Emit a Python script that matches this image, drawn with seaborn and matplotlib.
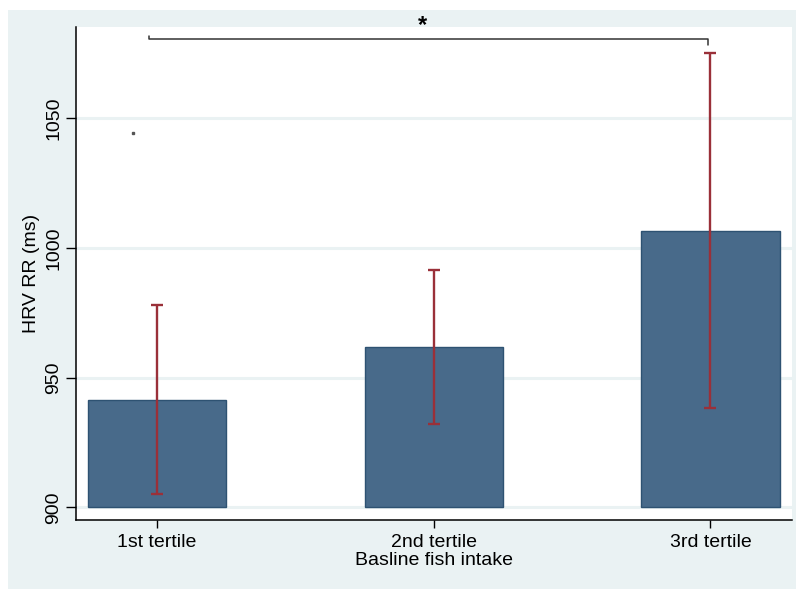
import numpy as np
import pandas as pd
import matplotlib
matplotlib.use("Agg")
import matplotlib.pyplot as plt
import seaborn as sns
from matplotlib.patches import Rectangle

# данные
groups = ["1st tertile", "2nd tertile", "3rd tertile"]
means = [941.5, 961.8, 1006.5]
ci_low = [905.1, 932.3, 938.4]
ci_high = [977.9, 991.4, 1075.3]
y_ticks = [900, 950, 1000, 1050]
stray_point = (-0.088, 1044.2)
bracket = (-0.03, 1.99, 1080.6)
star_x = 0.958
base = 900

sns.set_theme(style="white")
plt.rcParams["font.family"] = ["Liberation Sans", "DejaVu Sans"]
plt.rcParams["text.color"] = "black"
plt.rcParams["axes.labelcolor"] = "black"
plt.rcParams["xtick.color"] = "black"
plt.rcParams["ytick.color"] = "black"

bg = "#eaf2f3"
fig = plt.figure(figsize=(7.96, 5.89), dpi=100, facecolor="white")
fig.patches.append(Rectangle((8 / 796, 0), 1, 1 - 10 / 589, transform=fig.transFigure,
                             facecolor=bg, edgecolor="none", zorder=-5))
ax = fig.add_axes([76 / 796, 1 - 520 / 589, (792 - 76) / 796, (520 - 27) / 589])
ax.set_facecolor("white")

df = pd.DataFrame({"group": groups, "mean": means})
sns.barplot(data=df, x="group", y="mean", color="#486a8a", saturation=1,
            width=0.5, edgecolor="#2e5272", linewidth=1.0, errorbar=None, ax=ax, zorder=3)

# столбцы начинаются с 900
for p in ax.patches:
    h = p.get_height()
    p.set_y(base)
    p.set_height(h - base)

x = np.arange(len(groups))
m = np.array(means)
lo = m - np.array(ci_low)
hi = np.array(ci_high) - m
ax.errorbar(x, m, yerr=[lo, hi], fmt="none", ecolor="#9a3039", elinewidth=1.7,
            capsize=4, capthick=1.7, zorder=4)

# лишняя точка
ax.plot([stray_point[0]], [stray_point[1]], marker="s", markersize=1.5,
        color="#555555", linestyle="none", zorder=4)

# скобка значимости
x0, x1, yb = bracket
ax.plot([x0, x0, x1, x1], [yb + 1.3, yb, yb, yb - 2.3], color="#333333", lw=1.1,
        clip_on=False, zorder=5)
ax.text(star_x, yb + 0.8, "*", ha="center", va="bottom", fontsize=17,
        fontweight="bold", clip_on=False)

ax.set_xlim(-0.293, 2.295)
ax.set_ylim(895.1, 1085.2)
ax.set_yticks(y_ticks)
ax.set_yticklabels([str(t) for t in y_ticks], rotation=90, va="center", fontsize=14)
ax.tick_params(axis="x", labelsize=14, length=6, width=1, color="black", direction="out",
               bottom=True, pad=4)
ax.tick_params(axis="y", length=7, width=1, color="black", direction="out", left=True, pad=3)
ax.yaxis.grid(True, color=bg, linewidth=2.2)
ax.set_axisbelow(True)

for s in ["top", "right"]:
    ax.spines[s].set_visible(False)
for s in ["left", "bottom"]:
    ax.spines[s].set_color("black")
    ax.spines[s].set_linewidth(1.1)

ax.set_xlabel("Basline fish intake", fontsize=14, labelpad=1)
ax.set_ylabel("HRV RR (ms)", fontsize=14, labelpad=4)

fig.savefig("out.png", dpi=100, facecolor="white")
